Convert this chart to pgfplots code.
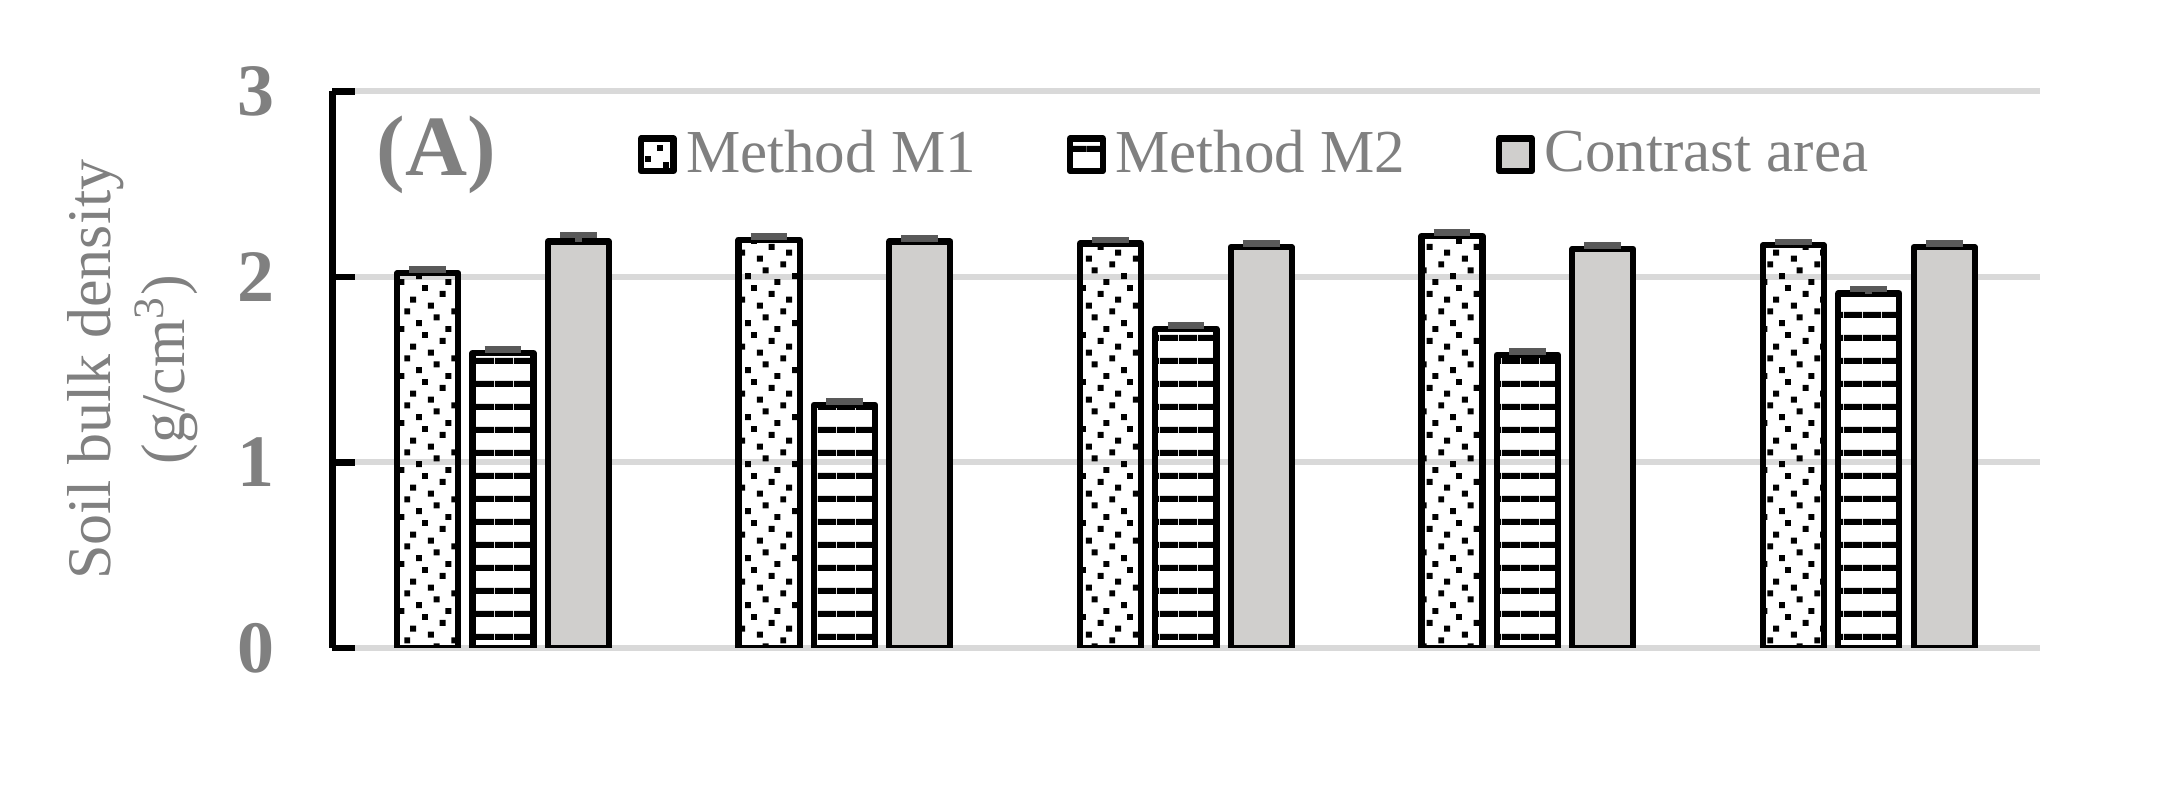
\documentclass[border=0pt]{standalone}
\usepackage{fontspec}
\setmainfont{Liberation Serif}
\usepackage{pgfplots}
\pgfplotsset{compat=1.18}
\usetikzlibrary{patterns.meta}

\definecolor{txtgray}{HTML}{808080}
\definecolor{gridgray}{HTML}{D9D9D9}
\definecolor{fillgray}{HTML}{D0CFCD}
\definecolor{errgray}{HTML}{595959}

% sparse square dots (M1): 8x8 cells, one dot per row
\tikzdeclarepattern{
  name=sparsedots,
  bottom left={(0pt,0pt)}, top right={(9.84pt,9.84pt)},
  tile size={(9.84pt,9.84pt)},
  code={
    \fill (4.92pt,0pt) rectangle ++(1.25pt,1.25pt);
    \fill (8.61pt,1.23pt) rectangle ++(1.23pt,1.25pt);
    \fill (2.46pt,2.46pt) rectangle ++(1.25pt,1.25pt);
    \fill (6.15pt,3.69pt) rectangle ++(1.25pt,1.25pt);
    \fill (1.23pt,4.92pt) rectangle ++(1.25pt,1.25pt);
    \fill (7.38pt,6.15pt) rectangle ++(1.25pt,1.25pt);
    \fill (3.69pt,7.38pt) rectangle ++(1.25pt,1.25pt);
    \fill (0pt,8.61pt) rectangle ++(1.25pt,1.23pt);
  }
}
% thick horizontal lines (M2)
\tikzdeclarepattern{
  name=hlines,
  bottom left={(0pt,0pt)}, top right={(4pt,4.87pt)},
  tile size={(4pt,4.87pt)},
  code={\fill (0pt,0pt) rectangle (4pt,1.3pt);}
}

\pgfplotstableread{
x  m1   m1e   m2   m2e   ca   cae
1  2.02 0.018 1.59 0.018 2.19 0.035
2  2.20 0.018 1.31 0.018 2.19 0.018
3  2.18 0.018 1.72 0.018 2.16 0.018
4  2.22 0.018 1.58 0.018 2.15 0.018
5  2.17 0.018 1.91 0.025 2.16 0.018
}\density

\begin{document}
\begin{tikzpicture}
\path[use as bounding box] (-2.449cm,-1.133cm) rectangle (13.551cm,4.775cm);
\begin{axis}[
  scale only axis,
  width=12.582cm, height=4.102cm,
  xmin=0.5, xmax=5.5, ymin=0, ymax=3,
  ybar=3pt, bar width=0.45cm,
  axis x line=none,
  axis y line*=left,
  y axis line style={line width=1.4pt, black},
  xtick=\empty,
  ytick={0,1,2,3},
  tick align=inside,
  major tick length=0.17cm,
  ytick style={line width=1.4pt, black},
  ymajorgrids,
  grid style={gridgray, line width=1.3pt},
  /pgf/number format/assume math mode=true,
  yticklabel style={font=\fontsize{15.5}{17}\selectfont\bfseries, text=txtgray, xshift=-0.3cm},
  ylabel={Soil bulk density\\(g/cm\textsuperscript{3})},
  every axis y label/.style={at={(rel axis cs:-0.1168,0.5)}, rotate=90, anchor=center,
    align=center, font=\fontsize{13}{15.4}\selectfont, text=txtgray},
  legend style={at={(rel axis cs:0.17,0.886)}, anchor=west, draw=none, fill=none,
    font=\fontsize{12.8}{15}\selectfont, text=txtgray,
    /tikz/every even column/.append style={column sep=0.6cm}},
  legend columns=3,
  legend image code/.code={\draw[#1] (0cm,-0.12cm) rectangle (0.24cm,0.12cm);},
  error bars/y dir=plus,
  error bars/y explicit,
  error bars/error mark=|,
  error bars/error bar style={errgray, line width=1.4pt},
  error bars/error mark options={errgray, line width=1.4pt, mark size=3.85pt},
]
\addplot[draw=black, line width=1.3pt, line join=round, pattern={sparsedots}, pattern color=black]
  table[x=x, y=m1, y error=m1e] {\density};
\addlegendentry{Method M1}
\addplot[draw=black, line width=1.3pt, line join=round, pattern={hlines}, pattern color=black]
  table[x=x, y=m2, y error=m2e] {\density};
\addlegendentry{Method M2}
\addplot[draw=black, line width=1.3pt, line join=round, fill=fillgray]
  table[x=x, y=ca, y error=cae] {\density};
\addlegendentry{Contrast area}
\node[font=\fontsize{18}{18}\selectfont\bfseries, text=txtgray] at (rel axis cs:0.061,0.886) {(A)};
\end{axis}
\end{tikzpicture}
\end{document}
